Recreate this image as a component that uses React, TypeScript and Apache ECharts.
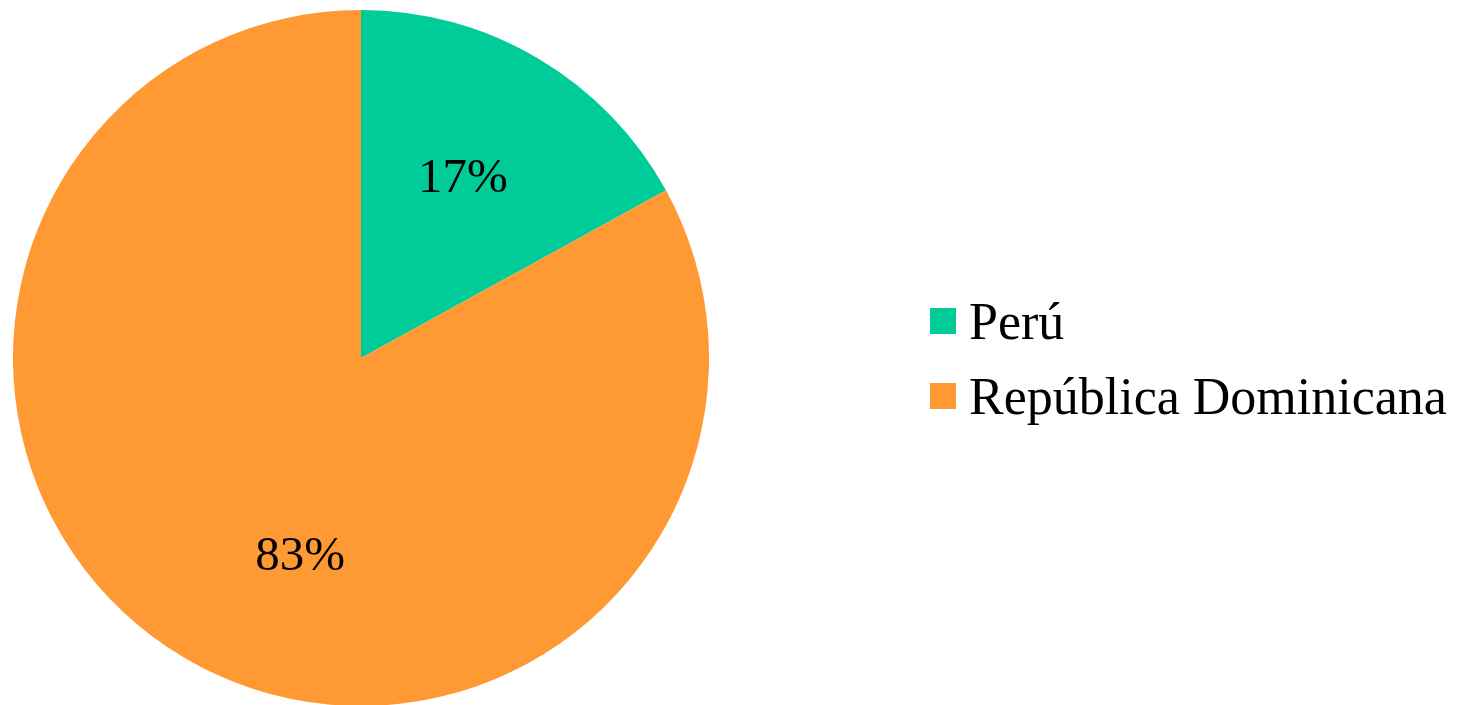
import React, { useEffect, useRef } from "react";
import * as echarts from "echarts";

const categories = ["Perú", "República Dominicana"];
const values = [17, 83];
const colors = ["#00CC99", "#FF9933"];
// label nudges (px) relative to ECharts' default inside position
const labelNudgeX = [-5, 46];
const labelNudgeY = [-2, 15];

export default function App() {
  const ref = useRef<HTMLDivElement>(null);
  useEffect(() => {
    if (!ref.current) return;
    const chart = echarts.init(ref.current, undefined, { renderer: "svg" });
    const data = categories.map((name, i) => ({ name, value: values[i], itemStyle: { color: colors[i] } }));
    const font = "'Liberation Serif', 'Times New Roman', serif";
    chart.setOption({
      animation: false,
      backgroundColor: "#ffffff",
      legend: {
        orient: "vertical",
        left: 925,
        top: 290,
        padding: 5,
        itemWidth: 26,
        itemHeight: 26,
        itemGap: 23,
        icon: "rect",
        selectedMode: false,
        data: categories.map((name, i) => ({ name, itemStyle: { color: colors[i] } })),
        textStyle: { fontFamily: font, fontSize: 52, lineHeight: 50, color: "#000", padding: [0, 0, 0, 8] },
      },
      series: [
        {
          type: "pie",
          center: [361, 358],
          radius: [0, 348],
          startAngle: 90,
          clockwise: true,
          silent: true,
          label: { show: false },
          labelLine: { show: false },
          itemStyle: { borderWidth: 0 },
          data,
        },
        {
          type: "pie",
          center: [361, 358],
          radius: [0, 414],
          startAngle: 90,
          clockwise: true,
          silent: true,
          itemStyle: { color: "rgba(0,0,0,0)", borderWidth: 0 },
          label: {
            show: true,
            position: "inside",
            formatter: "{c}%",
            fontFamily: font,
            fontSize: 49,
            color: "#000",
          },
          labelLayout: (p: any) => ({ dx: labelNudgeX[p.dataIndex], dy: labelNudgeY[p.dataIndex] }),
          labelLine: { show: false },
          data: categories.map((name, i) => ({ name, value: values[i] })),
        },
      ],
    });
    return () => chart.dispose();
  }, []);
  return <div ref={ref} style={{ position: "fixed", left: 0, top: 0, width: 1466, height: 705 }} />;
}
